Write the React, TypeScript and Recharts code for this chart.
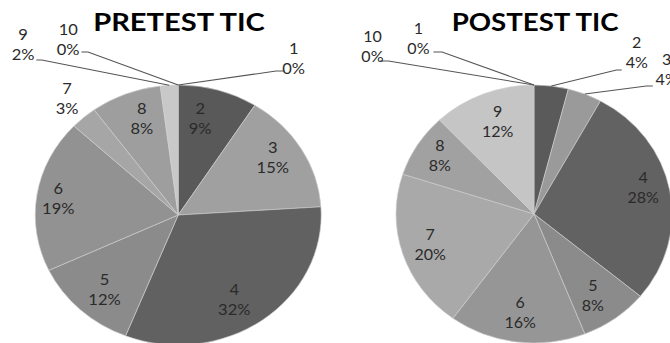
import React from 'react';
import { PieChart, Pie, Cell } from 'recharts';

// ---------- data ----------
const categories = ['1', '2', '3', '4', '5', '6', '7', '8', '9', '10'];
const pretestValues = [0, 9, 15, 32, 12, 19, 3, 8, 2, 0];
const posttestValues = [0, 4, 4, 28, 8, 16, 20, 8, 12, 0];
const pretestTitle = 'PRETEST TIC';
const posttestTitle = 'POSTEST TIC';

// ---------- styles ----------
const pretestColors = ['#5a5a5a', '#595959', '#a0a0a0', '#616161', '#8b8b8b', '#929292', '#a6a6a6', '#9e9e9e', '#c8c8c8', '#d0d0d0'];
const posttestColors = ['#5a5a5a', '#5a5a5a', '#9a9a9a', '#626262', '#8b8b8b', '#969696', '#a9a9a9', '#a1a1a1', '#c5c5c5', '#d0d0d0'];

// label centre offsets from pie centre (unscaled px)
const pretestLabelOffsets: [number, number][] = [
  [105, -157], [20, -97], [86, -58], [51, 84], [-67, 74],
  [-109, -17], [-101, -117], [-33, -97], [-141, -171], [-100, -176],
];
const posttestLabelOffsets: [number, number][] = [
  [-108, -176], [96, -162], [124, -145], [102, -27], [55, 81],
  [-13, 98], [-97, 30], [-88, -59], [-34, -93], [-151, -168],
];
// leader line: elbow and end points (unscaled px from centre); start is slice edge
const pretestLeaders: Record<number, [number, number][]> = {
  0: [[89, -144], [96, -144]],
  8: [[-124, -155], [-129, -155]],
  9: [[-82, -163], [-88, -163]],
};
const posttestLeaders: Record<number, [number, number][]> = {
  0: [[-86, -162], [-94, -162]],
  1: [[77, -144], [82, -144]],
  2: [[105, -128], [111, -128]],
  9: [[-136, -153], [-144, -153]],
};

const RAD = Math.PI / 180;
const FONT = 'Lato, "Open Sans", sans-serif';

function makeLabel(offsets: [number, number][], leaders: Record<number, [number, number][]>) {
  return (props: any) => {
    const { cx, cy, midAngle, outerRadius, index, name, value } = props;
    const [dx, dy] = offsets[index];
    const x = cx + dx;
    const y = cy + dy;
    const lead = leaders[index];
    let line = null;
    if (lead) {
      const sx = cx + outerRadius * Math.cos(midAngle * RAD);
      const sy = cy - outerRadius * Math.sin(midAngle * RAD);
      const pts = [[sx, sy], ...lead.map(([px, py]) => [cx + px, cy + py])];
      line = (
        <polyline
          points={pts.map((p) => p.join(',')).join(' ')}
          fill="none"
          stroke="#555"
          strokeWidth={1}
        />
      );
    }
    return (
      <g key={`lab-${index}`}>
        {line}
        <text x={x} y={y - 10} textAnchor="middle" dominantBaseline="central" fontSize={15} fontFamily={FONT} fill="#2a2a2a">
          {name}
        </text>
        <text x={x} y={y + 10} textAnchor="middle" dominantBaseline="central" fontSize={15} fontFamily={FONT} fill="#2a2a2a">
          {`${value}%`}
        </text>
      </g>
    );
  };
}

function OnePie(props: {
  values: number[];
  colors: string[];
  title: string;
  offsets: [number, number][];
  leaders: Record<number, [number, number][]>;
  left: number;
  scale: number;
  width: number;
  cx: number;
  cy: number;
  r: number;
  titleX: number;
}) {
  const data = categories.map((c, i) => ({ name: c, value: props.values[i] }));
  return (
    <div
      style={{
        position: 'absolute',
        left: props.left,
        top: 0,
        width: props.width,
        height: 343,
        transform: `scaleX(${props.scale})`,
        transformOrigin: '0 0',
      }}
    >
      <PieChart
        width={props.width}
        height={343}
        margin={{ top: 0, right: 0, bottom: 0, left: 0 }}
        style={{ overflow: 'visible' }}
      >
        <Pie
          data={data}
          dataKey="value"
          nameKey="name"
          cx={props.cx}
          cy={props.cy}
          outerRadius={props.r}
          startAngle={90}
          endAngle={-270}
          stroke="#cfcfcf"
          strokeWidth={0.6}
          isAnimationActive={false}
          labelLine={false}
          label={makeLabel(props.offsets, props.leaders)}
        >
          {data.map((d, i) => (
            <Cell key={d.name} fill={props.colors[i]} />
          ))}
        </Pie>
      </PieChart>
      <svg width={props.width} height={40} style={{ position: 'absolute', left: 0, top: 0, overflow: 'visible' }}>
        <text
          x={props.titleX}
          y={31}
          textAnchor="middle"
          fontFamily={FONT}
          fontWeight={700}
          fontSize={25}
          fill="#000"
          textLength={156}
          lengthAdjust="spacingAndGlyphs"
        >
          {props.title}
        </text>
      </svg>
    </div>
  );
}

export default function App() {
  return (
    <div
      style={{
        position: 'absolute',
        left: 0,
        top: 0,
        width: 670,
        height: 343,
        overflow: 'hidden',
        background: '#fff',
      }}
    >
      <OnePie
        values={pretestValues}
        colors={pretestColors}
        title={pretestTitle}
        offsets={pretestLabelOffsets}
        leaders={pretestLeaders}
        left={0}
        scale={1.1}
        width={305}
        cx={162}
        cy={215}
        r={130}
        titleX={162.7}
      />
      <OnePie
        values={posttestValues}
        colors={posttestColors}
        title={posttestTitle}
        offsets={posttestLabelOffsets}
        leaders={posttestLeaders}
        left={335}
        scale={1.07}
        width={340}
        cx={186}
        cy={214}
        r={129}
        titleX={187}
      />
    </div>
  );
}
